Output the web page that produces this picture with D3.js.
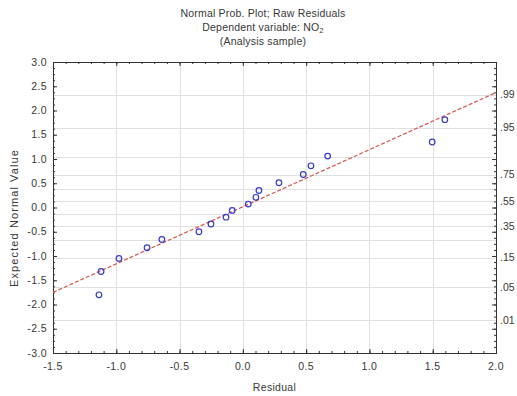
<!DOCTYPE html>
<html>
<head>
<meta charset="utf-8">
<script src="https://cdn.jsdelivr.net/npm/d3@7"></script>
<style>
  html, body { margin: 0; padding: 0; background: #fff; }
  svg { display: block; font-family: "Liberation Sans", Arial, sans-serif; }
  text { fill: #383838; }
</style>
</head>
<body>
<svg id="chart" width="517" height="396"></svg>
<script>
// ---- data ----
const residuals = [-1.137, -1.12, -0.979, -0.757, -0.64, -0.347, -0.252, -0.133, -0.084,
                   0.043, 0.103, 0.127, 0.285, 0.477, 0.538, 0.67, 1.496, 1.596];
const expectedNormal = [-1.80, -1.32, -1.05, -0.83, -0.66, -0.50, -0.34, -0.20, -0.06,
                        0.07, 0.21, 0.35, 0.51, 0.68, 0.86, 1.06, 1.35, 1.81];
const fitX = [-1.5, 2.0];
const fitY = [-1.75, 2.37];
const xTicks = [-1.5, -1.0, -0.5, 0.0, 0.5, 1.0, 1.5, 2.0];
const yTicks = [-3.0, -2.5, -2.0, -1.5, -1.0, -0.5, 0.0, 0.5, 1.0, 1.5, 2.0, 2.5, 3.0];
const probGrid = [0.01, 0.05, 0.15, 0.25, 0.35, 0.45, 0.55, 0.65, 0.75, 0.85, 0.95, 0.99];
const probLabels = [".01", ".05", ".15", ".35", ".55", ".75", ".95", ".99"];
const titleLines = ["Normal Prob. Plot; Raw Residuals", "Dependent variable: NO", "(Analysis sample)"];

// ---- layout ----
const svg = d3.select("#chart");
const L = 53, R = 496, T = 62, B = 353;
const x = d3.scaleLinear().domain([-1.5, 2.0]).range([L, R]);
const y = d3.scaleLinear().domain([-3, 3]).range([B, T]);

// inverse normal CDF (Acklam)
function qnorm(p) {
  const a=[-3.969683028665376e+01,2.209460984245205e+02,-2.759285104469687e+02,1.383577518672690e+02,-3.066479806614716e+01,2.506628277459239e+00];
  const b=[-5.447609879822406e+01,1.615858368580409e+02,-1.556989798598866e+02,6.680131188771972e+01,-1.328068155288572e+01];
  const c=[-7.784894002430293e-03,-3.223964580411365e-01,-2.400758277161838e+00,-2.549732539343734e+00,4.374664141464968e+00,2.938163982698783e+00];
  const d=[7.784695709041462e-03,3.224671290700398e-01,2.445134137142996e+00,3.754408661907416e+00];
  const pl=0.02425, ph=1-pl; let q, r;
  if (p < pl) { q=Math.sqrt(-2*Math.log(p)); return (((((c[0]*q+c[1])*q+c[2])*q+c[3])*q+c[4])*q+c[5])/((((d[0]*q+d[1])*q+d[2])*q+d[3])*q+1); }
  if (p > ph) { q=Math.sqrt(-2*Math.log(1-p)); return -(((((c[0]*q+c[1])*q+c[2])*q+c[3])*q+c[4])*q+c[5])/((((d[0]*q+d[1])*q+d[2])*q+d[3])*q+1); }
  q=p-0.5; r=q*q;
  return (((((a[0]*r+a[1])*r+a[2])*r+a[3])*r+a[4])*r+a[5])*q/(((((b[0]*r+b[1])*r+b[2])*r+b[3])*r+b[4])*r+1);
}

// gridlines
const grid = svg.append("g").attr("stroke", "#e0e0e0").attr("stroke-width", 1);
xTicks.slice(1, -1).forEach(v => {
  const xx = Math.round(x(v)) + 0.5;
  grid.append("line").attr("x1", xx).attr("x2", xx).attr("y1", T).attr("y2", B);
});
probGrid.forEach(p => {
  const yy = Math.round(y(qnorm(p))) + 0.5;
  grid.append("line").attr("x1", L).attr("x2", R).attr("y1", yy).attr("y2", yy);
});

// axes (inward ticks on all sides)
const minorX = d3.range(-1.5, 2.0001, 0.1);
const minorY = d3.range(-3, 3.0001, 0.125);
svg.append("g").attr("transform", `translate(0,${B})`)
  .call(d3.axisTop(x).tickValues(minorX).tickSize(2).tickFormat(""));
svg.append("g").attr("transform", `translate(0,${B})`)
  .call(d3.axisTop(x).tickValues(xTicks).tickSize(4).tickFormat(""));
svg.append("g").attr("transform", `translate(0,${T})`)
  .call(d3.axisBottom(x).tickValues(minorX).tickSize(2).tickFormat(""));
svg.append("g").attr("transform", `translate(0,${T})`)
  .call(d3.axisBottom(x).tickValues(xTicks).tickSize(4).tickFormat(""));
svg.append("g").attr("transform", `translate(${L},0)`)
  .call(d3.axisRight(y).tickValues(minorY).tickSize(2).tickFormat(""));
svg.append("g").attr("transform", `translate(${L},0)`)
  .call(d3.axisRight(y).tickValues(yTicks).tickSize(4).tickFormat(""));
svg.append("g").attr("transform", `translate(${R},0)`)
  .call(d3.axisLeft(y).tickValues(minorY).tickSize(2).tickFormat(""));
svg.append("g").attr("transform", `translate(${R},0)`)
  .call(d3.axisLeft(y).tickValues(yTicks).tickSize(4).tickFormat(""));
svg.selectAll(".domain").attr("stroke", "#333");
svg.selectAll(".tick line").attr("stroke", "#333");

const fmt = d => d3.format(".1f")(d).replace("−", "-");
// tick labels
svg.append("g").selectAll("text").data(xTicks).join("text")
  .attr("x", d => x(d)).attr("y", 370).attr("text-anchor", "middle")
  .attr("font-size", 10.5).attr("letter-spacing", 0.4).text(fmt);
svg.append("g").selectAll("text").data(yTicks).join("text")
  .attr("x", 47).attr("y", d => y(d) + 3.5).attr("text-anchor", "end")
  .attr("font-size", 10.5).attr("letter-spacing", 0.4).text(fmt);
svg.append("g").selectAll("text").data(probLabels).join("text")
  .attr("x", 500).attr("y", d => y(qnorm(+("0" + d))) + 3.5).attr("text-anchor", "start")
  .attr("font-size", 10.5).text(d => d);

// axis titles
svg.append("text").attr("x", (L + R) / 2).attr("y", 391).attr("text-anchor", "middle")
  .attr("font-size", 10.5).attr("letter-spacing", 0.3).text("Residual");
svg.append("text").attr("transform", `translate(18,218) rotate(-90)`)
  .attr("text-anchor", "middle").attr("font-size", 11).attr("letter-spacing", 1.1)
  .text("Expected Normal Value");

// title
const cx = 263;
svg.append("text").attr("x", cx).attr("y", 17).attr("text-anchor", "middle").attr("font-size", 10.5).attr("letter-spacing", 0.2).text(titleLines[0]);
const t2 = svg.append("text").attr("x", cx).attr("y", 31).attr("text-anchor", "middle").attr("font-size", 10.5).attr("letter-spacing", 0.2);
t2.append("tspan").text(titleLines[1]);
t2.append("tspan").attr("font-size", 7.5).attr("dy", 2).text("2");
svg.append("text").attr("x", cx).attr("y", 45).attr("text-anchor", "middle").attr("font-size", 10.5).attr("letter-spacing", 0.2).text(titleLines[2]);

// fit line
const line = d3.line().x(d => x(d[0])).y(d => y(d[1]));
svg.append("path").datum(d3.zip(fitX, fitY)).attr("d", line)
  .attr("fill", "none").attr("stroke", "#d9534f").attr("stroke-width", 1.2)
  .attr("stroke-dasharray", "4,2");

// points
svg.append("g").selectAll("circle").data(d3.zip(residuals, expectedNormal)).join("circle")
  .attr("cx", d => x(d[0])).attr("cy", d => y(d[1])).attr("r", 2.8)
  .attr("fill", "none").attr("stroke", "#3a3ac8").attr("stroke-width", 1.2);
</script>
</body>
</html>
